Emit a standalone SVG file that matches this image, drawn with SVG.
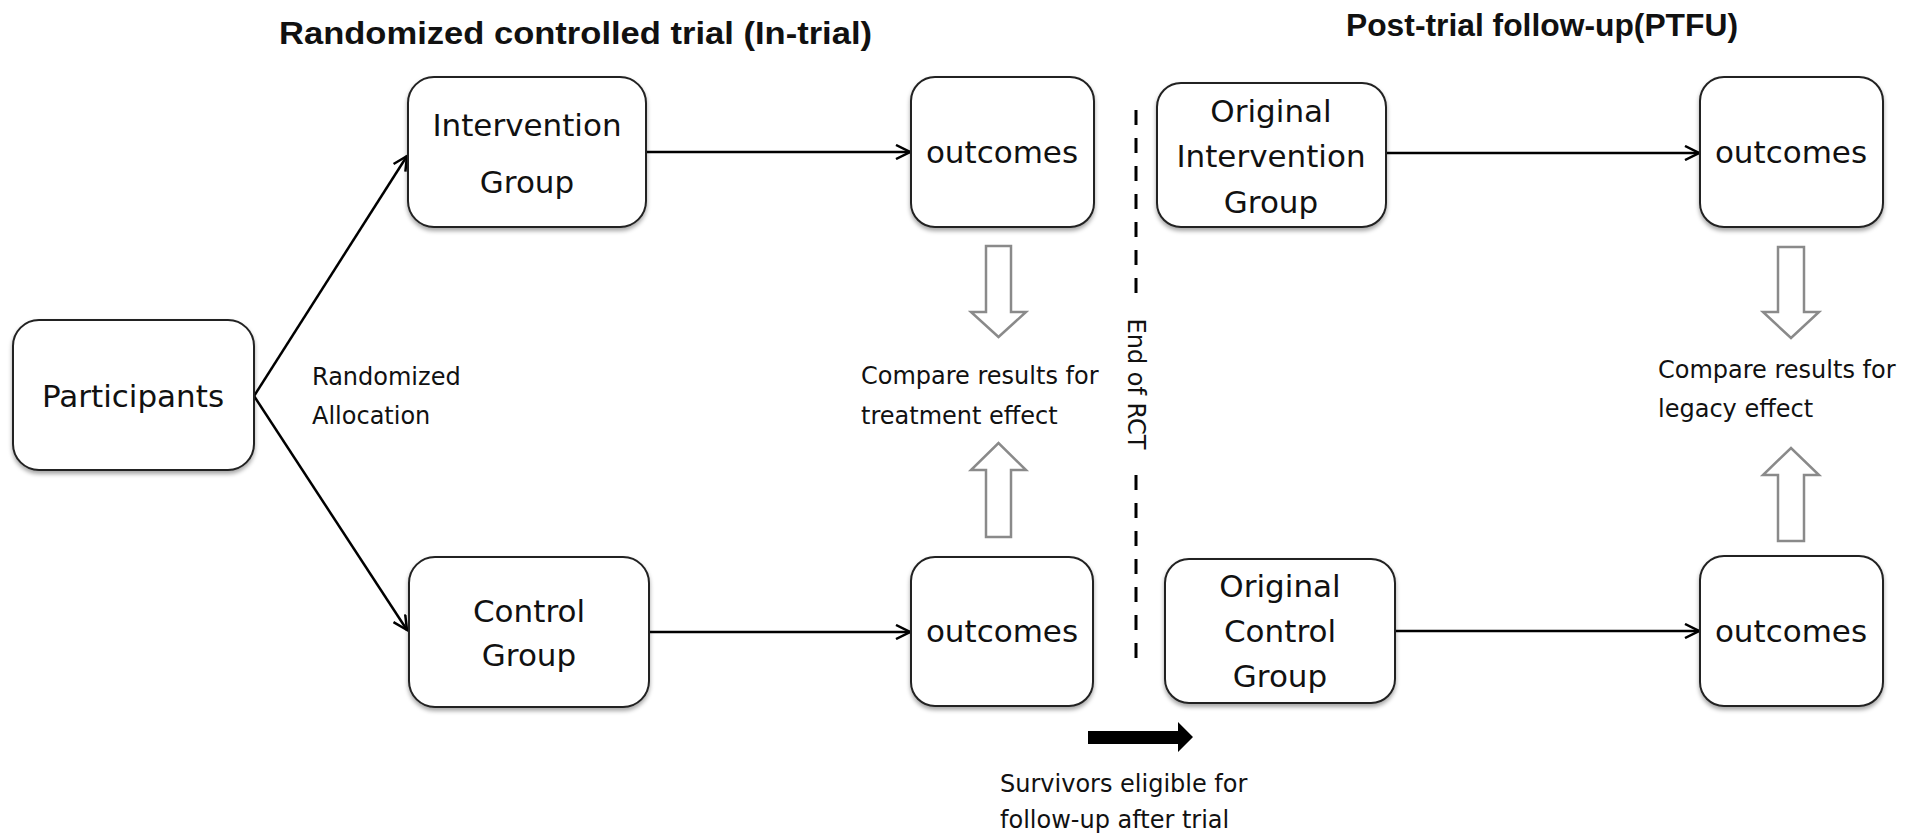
<svg xmlns="http://www.w3.org/2000/svg" width="1920" height="839" viewBox="0 0 1920 839">
<defs>
<style>
.box{fill:#fff;stroke:#222;stroke-width:2;filter:url(#sh)}
.t{font-family:"DejaVu Sans","Liberation Sans",sans-serif;font-size:31px;fill:#111;text-anchor:middle}
.s{font-family:"DejaVu Sans","Liberation Sans",sans-serif;font-size:24px;fill:#111}
.h{font-family:"Liberation Sans",Arial,sans-serif;font-weight:bold;font-size:32px;fill:#111}
.c{fill:none;stroke:#000;stroke-width:2.5}
.ho{fill:#fff;stroke:#8a8a8a;stroke-width:2.5}
</style>
<filter id="sh" x="-10%" y="-10%" width="120%" height="125%">
<feDropShadow dx="0" dy="3" stdDeviation="2" flood-color="#000" flood-opacity="0.35"/>
</filter>
<marker id="ah" markerWidth="18" markerHeight="16" refX="16" refY="8" orient="auto" markerUnits="userSpaceOnUse">
<path d="M2,1 L16,8 L2,15" fill="none" stroke="#000" stroke-width="2.5"/>
</marker>
</defs>
<rect width="1920" height="839" fill="#fff"/>

<text class="h" x="279" y="44" textLength="593" lengthAdjust="spacingAndGlyphs">Randomized controlled trial (In-trial)</text>
<text class="h" x="1346" y="36" textLength="392" lengthAdjust="spacingAndGlyphs">Post-trial follow-up(PTFU)</text>

<g id="connectors">
<line class="c" x1="254" y1="396" x2="407" y2="156" marker-end="url(#ah)"/>
<line class="c" x1="254" y1="396" x2="407" y2="630" marker-end="url(#ah)"/>
<line class="c" x1="646" y1="152" x2="910" y2="152" marker-end="url(#ah)"/>
<line class="c" x1="649" y1="632" x2="910" y2="632" marker-end="url(#ah)"/>
<line class="c" x1="1386" y1="153" x2="1699" y2="153" marker-end="url(#ah)"/>
<line class="c" x1="1395" y1="631" x2="1699" y2="631" marker-end="url(#ah)"/>
<path class="ho" d="M986,246 H1011 V312 H1026 L998.5,337 L971,312 H986 Z"/>
<path class="ho" d="M986,537 H1011 V470 H1026 L998.5,443 L971,470 H986 Z"/>
<path class="ho" d="M1778,247 H1804 V312 H1819 L1791,338 L1763,312 H1778 Z"/>
<path class="ho" d="M1778,541 H1804 V475 H1819 L1791,448 L1763,475 H1778 Z"/>
<path d="M1088,731 H1178 V722 L1193,737 L1178,752 V744 H1088 Z" fill="#000"/>
<line x1="1136" y1="110" x2="1136" y2="293" stroke="#000" stroke-width="3" stroke-dasharray="15 13"/>
<line x1="1136" y1="475" x2="1136" y2="663" stroke="#000" stroke-width="3" stroke-dasharray="15 13"/>
</g>

<g id="participants">
<rect class="box" x="13" y="320" width="241" height="150" rx="26"/>
<text class="t" x="133" y="407">Participants</text>
</g>
<g id="intervention">
<rect class="box" x="408" y="77" width="238" height="150" rx="26"/>
<text class="t" x="527" y="136">Intervention</text>
<text class="t" x="527" y="193">Group</text>
</g>
<g id="control">
<rect class="box" x="409" y="557" width="240" height="150" rx="26"/>
<text class="t" x="529" y="622">Control</text>
<text class="t" x="529" y="666">Group</text>
</g>
<g id="outcomes-1">
<rect class="box" x="911" y="77" width="183" height="150" rx="24"/>
<text class="t" x="1002" y="163">outcomes</text>
</g>
<g id="outcomes-2">
<rect class="box" x="911" y="557" width="182" height="149" rx="24"/>
<text class="t" x="1002" y="642">outcomes</text>
</g>
<g id="orig-intervention">
<rect class="box" x="1157" y="83" width="229" height="144" rx="24"/>
<text class="t" x="1271" y="122">Original</text>
<text class="t" x="1271" y="167">Intervention</text>
<text class="t" x="1271" y="213">Group</text>
</g>
<g id="orig-control">
<rect class="box" x="1165" y="559" width="230" height="144" rx="24"/>
<text class="t" x="1280" y="597">Original</text>
<text class="t" x="1280" y="642">Control</text>
<text class="t" x="1280" y="687">Group</text>
</g>
<g id="outcomes-3">
<rect class="box" x="1700" y="77" width="183" height="150" rx="24"/>
<text class="t" x="1791" y="163">outcomes</text>
</g>
<g id="outcomes-4">
<rect class="box" x="1700" y="556" width="183" height="150" rx="24"/>
<text class="t" x="1791" y="642">outcomes</text>
</g>

<g id="labels">
<text class="s" x="312" y="385">Randomized</text>
<text class="s" x="312" y="424">Allocation</text>
<text class="s" x="861" y="384">Compare results for</text>
<text class="s" x="861" y="424">treatment effect</text>
<text class="s" x="1658" y="378">Compare results for</text>
<text class="s" x="1658" y="417">legacy effect</text>
<text class="s" x="1000" y="792">Survivors eligible for</text>
<text class="s" x="1000" y="828">follow-up after trial</text>
<text class="s" transform="translate(1128,384) rotate(90)" text-anchor="middle" font-size="25">End of RCT</text>
</g>
</svg>
